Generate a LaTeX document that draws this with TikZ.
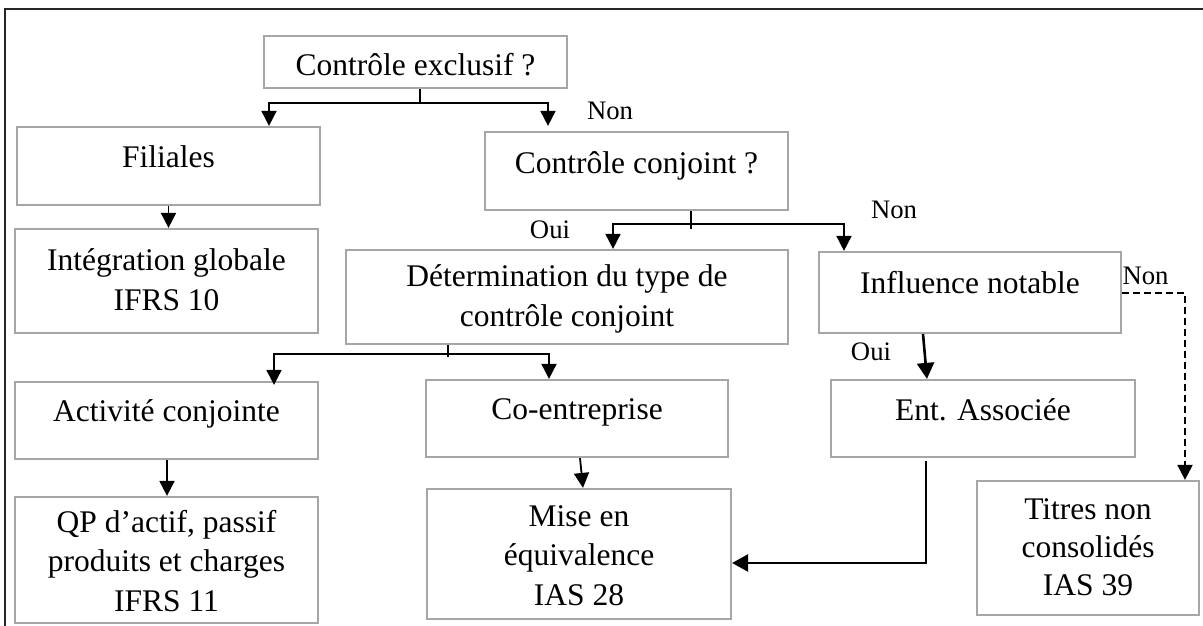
\documentclass[tikz,border=0pt]{standalone}
\usepackage{fontspec}
\setmainfont{Liberation Serif}
\usetikzlibrary{arrows.meta}
\definecolor{boxgray}{HTML}{A6A6A6}
\begin{document}
\begin{tikzpicture}[x=1pt,y=-1pt,
  box/.style={draw=boxgray, line width=2.2pt, inner sep=0pt},
  txt/.style={align=center, anchor=base, inner sep=0pt, font=\fontsize{31.5}{39.5}\selectfont},
  lab/.style={anchor=base, inner sep=0pt, font=\fontsize{26.7}{32}\selectfont},
  ln/.style={line width=1.8pt, black},
  arr/.style={ln, -{Triangle[width=15pt,length=15pt]}},
  bigarr/.style={line width=2.6pt, black, -{Triangle[width=17pt,length=16pt]}},
  dsh/.style={arr, line width=2pt, dash pattern=on 7pt off 4pt},
]
\useasboundingbox (0,0) rectangle (1203,626);
% outer frame (left and top edges)
\draw[line width=1.8pt, black!85] (5,626) -- (5,9) -- (1203,9);

% boxes
\node[box, minimum width=303, minimum height=52]  (excl)  at (415.5,62)  {};
\node[box, minimum width=303, minimum height=78]  (fil)   at (168.5,166) {};
\node[box, minimum width=303, minimum height=104] (integ) at (166.5,281) {};
\node[box, minimum width=303, minimum height=78]  (conj)  at (636.5,171) {};
\node[box, minimum width=442, minimum height=94]  (det)   at (567,297)   {};
\node[box, minimum width=302, minimum height=81]  (infl)  at (970,292.5) {};
\node[box, minimum width=303, minimum height=77]  (act)   at (166.5,420.5) {};
\node[box, minimum width=302, minimum height=77]  (coe)   at (577,418.5) {};
\node[box, minimum width=303, minimum height=126] (qp)    at (166.5,560) {};
\node[box, minimum width=304, minimum height=130] (mise)  at (579,554)   {};
\node[box, minimum width=304, minimum height=77]  (ent)   at (983,418.5) {};
\node[box, minimum width=222, minimum height=134] (tit)   at (1088,548)  {};

% box texts (base anchor = baseline of the last line)
\node[txt] (texcl)  at (415.5,76)  {Contrôle exclusif ?};
\node[txt] (tfil)   at (168.5,167) {Filiales};
\node[txt] (tinteg) at (166.5,310) {Intégration globale\\IFRS 10};
\node[txt] (tconj)  at (636.5,173) {Contrôle conjoint ?};
\node[txt] (tdet)   at (567,326)   {Détermination du type de\\contrôle conjoint};
\node[txt] (tinfl)  at (970,293)   {Influence notable};
\node[txt] (tact)   at (166.5,421) {Activité conjointe};
\node[txt] (tcoe)   at (577,419)   {Co-entreprise};
\node[txt] (tqp)    at (166.5,611) {QP d’actif, passif\\produits et charges\\IFRS 11};
\node[txt] (tmise)  at (579,605)   {Mise en\\équivalence\\IAS 28};
\node[txt, font=\fontsize{31.5}{38}\selectfont] (ttit) at (1088,595) {Titres non\\consolidés\\IAS 39};
\node[txt] (tent)   at (983,420)   {Ent. Associée};

% branch labels
\node[lab] (lnon1) at (610,119)    {Non};
\node[lab] (loui1) at (550,238)    {Oui};
\node[lab] (lnon2) at (894,218)    {Non};
\node[lab] (lnon3) at (1145.5,284) {Non};
\node[lab] (loui2) at (871,360)    {Oui};

% exclusive control split
\draw[ln] ([xshift=4.5]excl.south) -- ++(0,14) coordinate (j1);
\draw[arr] (j1) -| ([xshift=100.5]fil.north);
\draw[arr] (j1) -| ([xshift=-88.5,yshift=5]conj.north);
\draw[arr] (fil.south) -- (fil.south |- integ.north);

% joint control split
\draw[ln] ([xshift=54.5]conj.south) -- ++(0,18);
\coordinate (j2) at ([xshift=54.5,yshift=-13]conj.south);
\draw[arr] (j2) -| ([xshift=46]det.north);
\draw[arr] (j2) -| ([xshift=-126]infl.north);

% type of joint control split
\draw[ln] ([xshift=-119]det.south) -- ++(0,12);
\coordinate (j3) at ([xshift=-119,yshift=-9]det.south);
\draw[arr] (j3) -| ([xshift=107.5,yshift=-4]act.north);
\draw[arr] (j3) -| ([xshift=-28]coe.north);

% lower arrows
\draw[arr] ([xshift=0.5]act.south) -- ([xshift=0.5]act.south |- qp.north);
\draw[arr] ([xshift=3]coe.south) -- ([xshift=4]mise.north);
\draw[bigarr] ([xshift=-47]infl.south) -- ([xshift=-56]ent.north);
\draw[bigarr] ([xshift=-57,yshift=-3]ent.south) |- ([yshift=-9]mise.east);
\draw[dsh] (infl.east) -| ([xshift=97]tit.north);
\end{tikzpicture}
\end{document}
